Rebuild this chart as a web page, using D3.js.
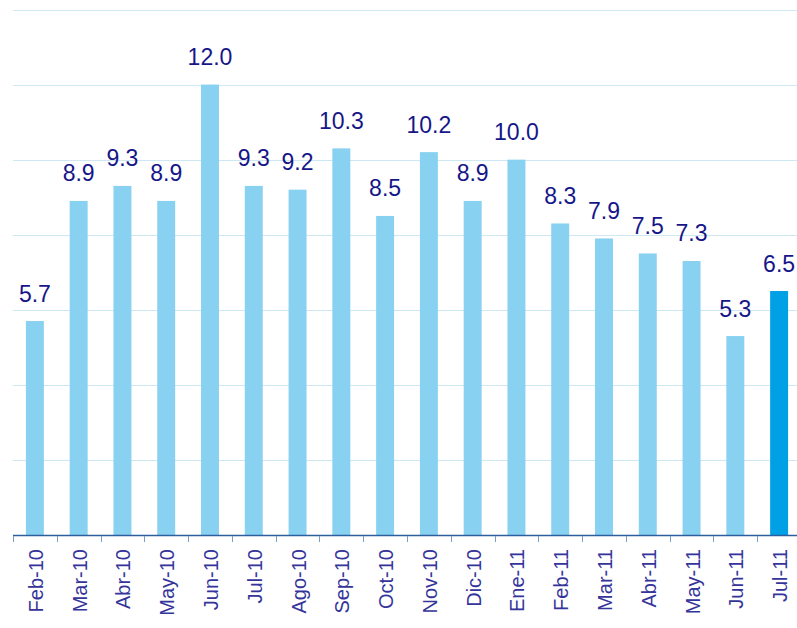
<!DOCTYPE html>
<html>
<head>
<meta charset="utf-8">
<script src="https://cdn.jsdelivr.net/npm/d3@7"></script>
<style>
  body { margin: 0; background: #fff; }
  svg { display: block; font-family: "Liberation Sans", Arial, sans-serif; }
</style>
</head>
<body>
<svg id="chart" width="797" height="628"></svg>
<script>
const svg = d3.select("#chart");

const months = ["Feb-10", "Mar-10", "Abr-10", "May-10", "Jun-10", "Jul-10", "Ago-10", "Sep-10",
    "Oct-10", "Nov-10", "Dic-10", "Ene-11", "Feb-11", "Mar-11", "Abr-11", "May-11", "Jun-11", "Jul-11"];
const values = [5.7, 8.9, 9.3, 8.9, 12.0, 9.3, 9.2, 10.3, 8.5, 10.2, 8.9, 10.0, 8.3, 7.9, 7.5, 7.3, 5.3, 6.5];
const gridTicks = [2, 4, 6, 8, 10, 12, 14];

const x = d3.scaleBand()
    .domain(months)
    .range([13, 801])
    .paddingInner(0.59)
    .paddingOuter(0.295);

const y = d3.scaleLinear()
    .domain([0, 14])
    .range([535, 9.5]);

// gridlines
svg.append("g")
    .selectAll("line")
    .data(gridTicks)
    .enter()
    .append("line")
    .attr("x1", 13)
    .attr("x2", 797)
    .attr("y1", d => Math.round(y(d)) + 0.5)
    .attr("y2", d => Math.round(y(d)) + 0.5)
    .attr("stroke", "#cde8f2")
    .attr("stroke-width", 1);

// bars
svg.append("g")
    .selectAll("rect")
    .data(values)
    .enter()
    .append("rect")
    .attr("x", (d, i) => x(months[i]))
    .attr("y", d => y(d))
    .attr("width", x.bandwidth())
    .attr("height", d => y(0) - y(d))
    .attr("fill", (d, i) => i === values.length - 1 ? "#00a1e4" : "#88d1f1");

// value labels
svg.append("g")
    .selectAll("text")
    .data(values)
    .enter()
    .append("text")
    .attr("x", (d, i) => x(months[i]) + x.bandwidth() / 2)
    .attr("y", d => y(d) - 19.5)
    .attr("text-anchor", "middle")
    .attr("font-size", "23px")
    .attr("fill", "#161689")
    .text(d => d.toFixed(1));

// x axis
const axis = svg.append("g")
    .attr("transform", `translate(0,${y(0)})`)
    .call(d3.axisBottom(x).tickSize(0).tickFormat(""));
axis.select(".domain").remove();

axis.append("line")
    .attr("x1", 13)
    .attr("x2", 797)
    .attr("y1", 0.5)
    .attr("y2", 0.5)
    .attr("stroke", "#2d5f9e")
    .attr("stroke-width", 1.5);

const tickPos = months.map(m => x(m) - x.step() * x.paddingInner() / 2);
tickPos.push(801);
axis.selectAll(".sep")
    .data(tickPos)
    .enter()
    .append("line")
    .attr("class", "sep")
    .attr("x1", d => Math.round(d) + 0.5)
    .attr("x2", d => Math.round(d) + 0.5)
    .attr("y1", 1)
    .attr("y2", 7)
    .attr("stroke", "#7a9cc6")
    .attr("stroke-width", 1);

axis.selectAll(".lbl")
    .data(months)
    .enter()
    .append("text")
    .attr("class", "lbl")
    .attr("transform", d => `translate(${x(d) + x.bandwidth() / 2 + 8},14) rotate(-90)`)
    .attr("text-anchor", "end")
    .attr("font-size", "20px")
    .attr("fill", "#34349a")
    .text(d => d);
</script>
</body>
</html>
